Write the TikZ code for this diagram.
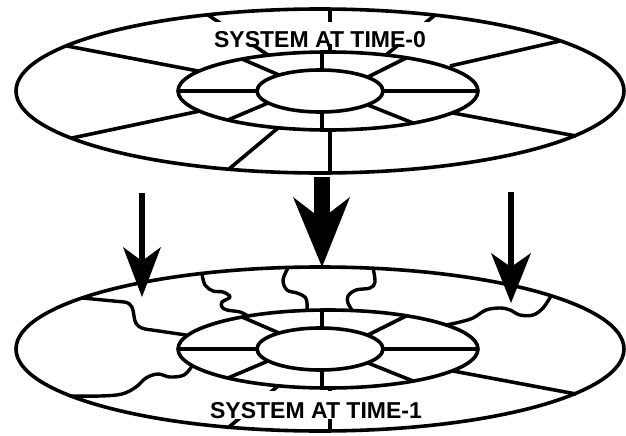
\documentclass[tikz,border=0pt]{standalone}
\usepackage{fontspec}
\setmainfont{Liberation Sans}
\begin{document}
\begin{tikzpicture}[x=1pt,y=-1pt,
  ln/.style={line width=3.6pt, line join=round},
  wavy/.style={line width=3.4pt, line join=round, line cap=round},
  lbl/.style={font=\fontsize{23}{23}\selectfont\bfseries, inner sep=0pt, anchor=base},
  maskbox/.style={fill=white, draw=none}]
\useasboundingbox (0,0) rectangle (626,436);

% ---- common parts of both discs ----
\foreach \dy in {0,258}{
\begin{scope}[shift={(0,\dy)}]
  \draw[ln] (320,91) ellipse [x radius=304pt, y radius=82pt];
  \draw[ln] (328,91) ellipse [x radius=150pt, y radius=39pt];
  \draw[ln] (320,91) ellipse [x radius=63pt, y radius=21pt];
  % inner to middle spokes
  \draw[ln] (322,70) -- (322,52);
  \draw[ln] (322,112) -- (322,130);
  \draw[ln] (178,91) -- (257,91);
  \draw[ln] (383,91) -- (478,91);
  \draw[ln] (279,75) -- (242,59);
  \draw[ln] (268,103) -- (228,120);
  \draw[ln] (368,77) -- (406,58);
  \draw[ln] (368,105) -- (413,123);
  % middle to outer spokes shared
  \draw[ln] (453,113) -- (576,136);
  \draw[ln] (330,130) -- (330,173);
  \draw[ln] (278,128) -- (229,169);
\end{scope}}

% ---- top disc: straight boundaries ----
\draw[ln] (67,46) -- (198,71);
\draw[ln] (72,138) -- (200,111);
\draw[ln] (450,66) -- (560,41);
\draw[ln] (330,9) -- (330,52);
\draw[ln] (208,15) -- (268,55);
\draw[ln] (435,15) -- (386,55);

% ---- bottom disc: wavy boundaries ----
\draw[wavy] (82,298) -- (124,302) .. controls (133,303) and (133,310) .. (134,316)
  .. controls (135,326) and (140,329) .. (152,330) -- (186,335);
\draw[wavy] plot[smooth, tension=0.6] coordinates {(192,366) (184,375) (170,377) (158,374) (146,378) (136,387) (122,394) (100,396) (70,396)};
\draw[wavy] plot[smooth, tension=0.6] coordinates {(202,274) (205,285) (213,291) (223,292) (230,297) (222,302) (222,307) (227,310) (240,312) (248,316)};
\draw[wavy] plot[smooth, tension=0.6] coordinates {(288,268) (283,280) (287,290) (297,293) (305,297) (307,303) (307,310)};
\draw[wavy] plot[smooth, tension=0.6] coordinates {(373,268) (375,282) (370,288) (356,290) (348,296) (348,303) (352,310)};
\draw[wavy] plot[smooth, tension=0.6] coordinates {(446,325) (460,322) (473,318) (486,310) (500,308) (510,310) (520,315) (533,315) (543,308) (551,296)};

% ---- labels on white ground ----
\fill[maskbox] (205,22) rectangle (437,44);
\fill[maskbox] (205,391) rectangle (432,419);
\node[lbl] (t0) at (320,47.5) {SYSTEM AT TIME-0};
\node[lbl] (t1) at (316,418.5) {SYSTEM AT TIME-1};

% ---- arrows ----
\coordinate (La) at (142,193); \coordinate (Lb) at (142,262);
\draw[line width=6.5pt] (La) -- (Lb);
\fill (123,247) -- (142,297) -- (161,247) -- (142,261) -- cycle;
\coordinate (Ra) at (511,192); \coordinate (Rb) at (511,268);
\draw[line width=6.5pt] (Ra) -- (Rb);
\fill (491,253) -- (511,303) -- (531,253) -- (511,267) -- cycle;
\coordinate (Ma) at (321.5,177); \coordinate (Mb) at (321.5,222);
\draw[line width=16pt] (Ma) -- (Mb);
\fill (293,197) -- (322,267) -- (350,197) -- (321.5,219) -- cycle;
\end{tikzpicture}
\end{document}
